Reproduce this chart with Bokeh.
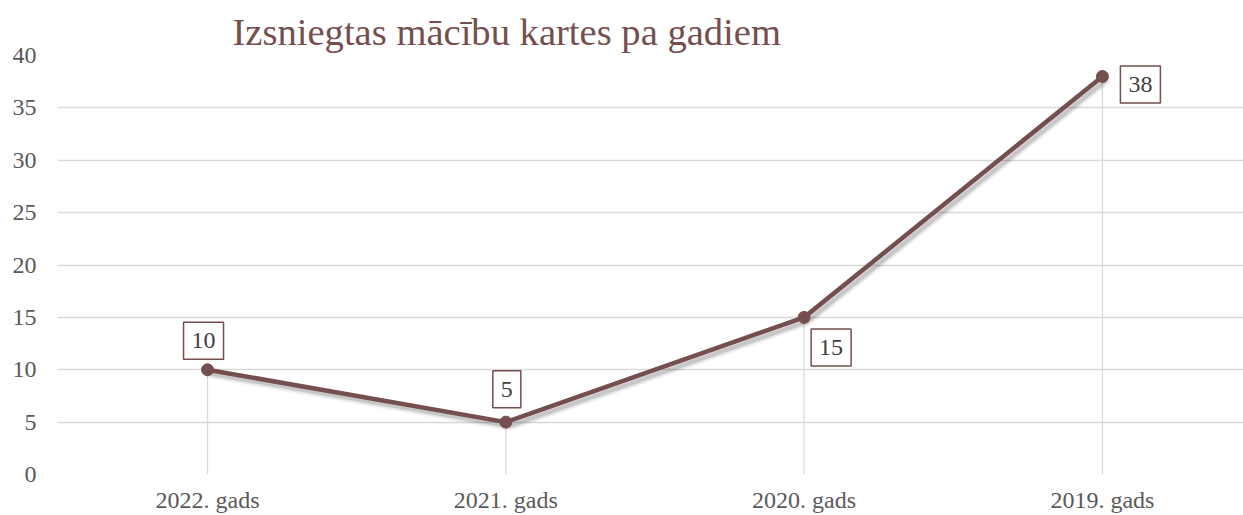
from bokeh.plotting import figure
from bokeh.models import Range1d, FixedTicker, ColumnDataSource
from bokeh.transform import dodge
from bokeh.core.properties import value
from bokeh.embed import file_html
from bokeh.resources import INLINE

categories = ["2022. gads", "2021. gads", "2020. gads", "2019. gads"]
counts = [10, 5, 15, 38]
y_ticks = [0, 5, 10, 15, 20, 25, 30, 35, 40]
title_text = "Izsniegtas mācību kartes pa gadiem"

# label placement (pixels, relative to the point)
label_dx = [-4, 1, 27, 38]
label_dy = [-29, -33, 30, 8]

idx = list(range(len(categories)))
src = ColumnDataSource(dict(x=idx, y=counts, lbl=[str(v) for v in counts],
                            dx=label_dx, dy=label_dy, zero=[0] * len(counts)))

BROWN = "#744f4e"
FONT = "Liberation Serif"

p = figure(width=1243, height=515, output_backend="svg", toolbar_location=None,
           x_range=Range1d(-0.503, 3.473), y_range=Range1d(0, 40),
           min_border_left=57, min_border_right=0, min_border_top=55, min_border_bottom=40)
p.outline_line_color = None
p.background_fill_color = "white"

p.title.text = title_text
p.title.text_font = FONT
p.title.text_font_size = "38.6px"
p.title.text_font_style = "normal"
p.title.text_color = BROWN
p.title.align = "left"
p.title.offset = 175
p.title.standoff = 6

p.xgrid.grid_line_color = None
p.ygrid.ticker = FixedTicker(ticks=y_ticks)
p.ygrid.grid_line_color = "#d9d9d9"
p.ygrid.grid_line_width = 1.6

p.yaxis.ticker = FixedTicker(ticks=y_ticks)
p.xaxis.ticker = FixedTicker(ticks=idx)
p.xaxis.major_label_overrides = {i: c for i, c in enumerate(categories)}
for ax in (p.xaxis, p.yaxis):
    ax.axis_line_color = None
    ax.major_tick_line_color = None
    ax.minor_tick_line_color = None
    ax.major_tick_out = 0
    ax.minor_tick_out = 0
    ax.major_label_text_font = FONT
    ax.major_label_text_font_size = "24px"
    ax.major_label_text_color = "#595959"
p.yaxis.major_label_standoff = 21
p.xaxis.major_label_standoff = 12

# drop lines
p.segment(x0="x", y0="zero", x1="x", y1="y", source=src, line_color="#d9d9d9", line_width=1.3)

# shadow
for w, a in ((10, 0.04), (7, 0.07), (4, 0.12)):
    p.line(x=dodge("x", 0.011, range=p.x_range), y=dodge("y", -0.38, range=p.y_range),
           source=src, line_color="black", line_alpha=a, line_width=w, line_join="round", line_cap="round")

p.line(x="x", y="y", source=src, line_color=BROWN, line_width=4.5, line_join="round", line_cap="round")
p.scatter(x="x", y="y", source=src, size=12, fill_color=BROWN, line_color=BROWN)

p.text(x="x", y="y", text="lbl", source=src, x_offset="dx", y_offset="dy",
       text_font=value(FONT), text_font_size="24px", text_color="#404040",
       text_align="center", text_baseline="middle",
       background_fill_color="white", border_line_color=BROWN, border_line_width=1.5,
       padding=(8, 11))

open("out.html", "w").write(file_html(p, INLINE))
